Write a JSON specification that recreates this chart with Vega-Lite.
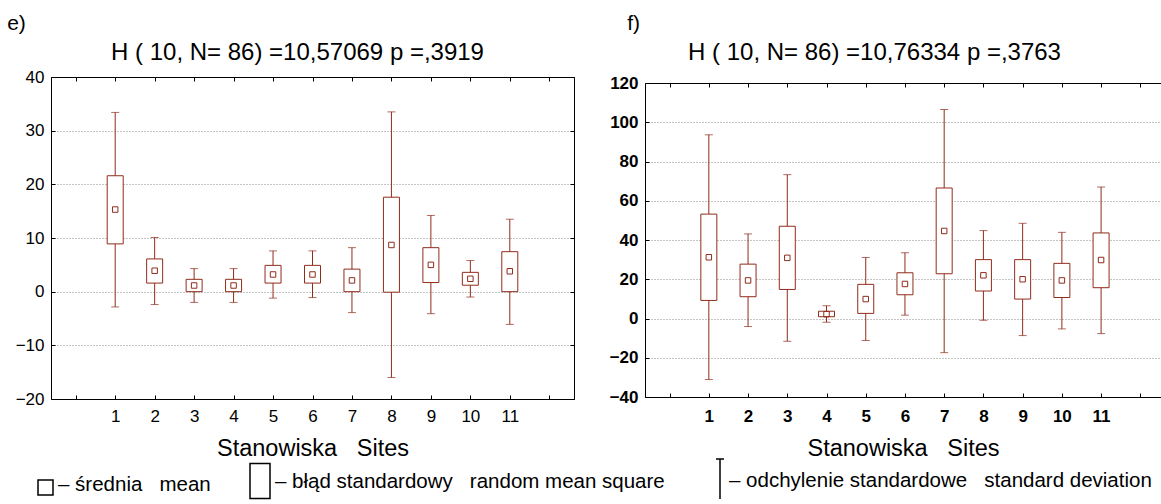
{
  "$schema": "https://vega.github.io/schema/vega-lite/v6.json",
  "padding": {"left": 7, "top": 13, "right": 0, "bottom": 0},
  "background": "white",
  "config": {
    "font": "Liberation Sans",
    "view": {"stroke": null},
    "axis": {"domainColor": "#000", "domainWidth": 1, "tickColor": "#000", "tickWidth": 1, "tickSize": -4, "labelColor": "#000", "labelFont": "Liberation Sans", "titleFont": "Liberation Sans", "titleColor": "#000", "titleFontWeight": "normal", "grid": false, "labelFontSize": 17, "labelFlush": false, "labelOverlap": false},
    "title": {"font": "Liberation Sans", "fontWeight": "normal", "color": "#000"},
    "concat": {"spacing": 34}
  },
  "datasets": {
    "e": [
      {"site": 1, "mean": 15.3, "seLo": 8.9, "seHi": 21.6, "sdLo": -2.85, "sdHi": 33.4},
      {"site": 2, "mean": 3.9, "seLo": 1.6, "seHi": 6.1, "sdLo": -2.4, "sdHi": 10.1},
      {"site": 3, "mean": 1.15, "seLo": 0.0, "seHi": 2.3, "sdLo": -2.0, "sdHi": 4.3},
      {"site": 4, "mean": 1.15, "seLo": 0.0, "seHi": 2.3, "sdLo": -2.0, "sdHi": 4.3},
      {"site": 5, "mean": 3.2, "seLo": 1.6, "seHi": 4.9, "sdLo": -1.2, "sdHi": 7.6},
      {"site": 6, "mean": 3.2, "seLo": 1.6, "seHi": 4.9, "sdLo": -1.1, "sdHi": 7.6},
      {"site": 7, "mean": 2.1, "seLo": 0.0, "seHi": 4.2, "sdLo": -3.9, "sdHi": 8.2},
      {"site": 8, "mean": 8.7, "seLo": -0.1, "seHi": 17.6, "sdLo": -16.0, "sdHi": 33.5},
      {"site": 9, "mean": 5.0, "seLo": 1.7, "seHi": 8.2, "sdLo": -4.1, "sdHi": 14.2},
      {"site": 10, "mean": 2.4, "seLo": 1.2, "seHi": 3.6, "sdLo": -1.0, "sdHi": 5.8},
      {"site": 11, "mean": 3.8, "seLo": 0.0, "seHi": 7.45, "sdLo": -6.1, "sdHi": 13.5}
    ],
    "f": [
      {"site": 1, "mean": 31.2, "seLo": 9.2, "seHi": 53.2, "sdLo": -31.1, "sdHi": 93.6},
      {"site": 2, "mean": 19.4, "seLo": 11.1, "seHi": 27.7, "sdLo": -4.1, "sdHi": 43.1},
      {"site": 3, "mean": 30.9, "seLo": 14.8, "seHi": 47.0, "sdLo": -11.6, "sdHi": 73.3},
      {"site": 4, "mean": 2.2, "seLo": 0.9, "seHi": 3.7, "sdLo": -1.9, "sdHi": 6.5},
      {"site": 5, "mean": 9.9, "seLo": 2.6, "seHi": 17.4, "sdLo": -11.2, "sdHi": 31.1},
      {"site": 6, "mean": 17.6, "seLo": 12.1, "seHi": 23.3, "sdLo": 1.7, "sdHi": 33.5},
      {"site": 7, "mean": 44.6, "seLo": 22.8, "seHi": 66.5, "sdLo": -17.4, "sdHi": 106.5},
      {"site": 8, "mean": 22.0, "seLo": 14.0, "seHi": 30.0, "sdLo": -0.9, "sdHi": 44.8},
      {"site": 9, "mean": 20.0, "seLo": 9.9, "seHi": 30.0, "sdLo": -8.7, "sdHi": 48.5},
      {"site": 10, "mean": 19.4, "seLo": 10.7, "seHi": 28.1, "sdLo": -5.3, "sdHi": 43.9},
      {"site": 11, "mean": 29.8, "seLo": 15.7, "seHi": 43.6, "sdLo": -7.7, "sdHi": 67.0}
    ],
    "legendItems": [
      {"item": "– średnia\u00a0\u00a0\u00a0mean"},
      {"item": "– błąd standardowy\u00a0\u00a0\u00a0random mean square"},
      {"item": "– odchylenie standardowe\u00a0\u00a0\u00a0standard deviation"}
    ]
  },
  "hconcat": [
    {
      "width": 523,
      "height": 322,
      "title": {"text": "e)", "anchor": "start", "frame": "bounds", "fontSize": 21, "dx": -8, "offset": 6},
      "data": {"name": "e"},
      "resolve": {"axis": {"x": "independent", "y": "independent"}},
      "layer": [
        {
          "mark": {"type": "rule", "color": "#902c1c", "strokeWidth": 1},
          "encoding": {
            "x": {"field": "site", "type": "quantitative", "scale": {"domain": [-0.5, 12.5], "nice": false, "zero": false},
              "axis": {"orient": "bottom", "values": [0,1,2,3,4,5,6,7,8,9,10,11,12], "labelExpr": "datum.value >= 1 && datum.value <= 11 ? datum.label : ''", "labelPadding": 13.7, "title": "Stanowiska\u00a0\u00a0\u00a0Sites", "titleFontSize": 23.5, "titleY": 56, "titleBaseline": "alphabetic"}},
            "y": {"field": "sdLo", "type": "quantitative", "scale": {"domain": [-20, 40], "nice": false, "zero": false},
              "axis": {"orient": "left", "values": [-20,-10,0,10,20,30,40], "grid": true, "gridDash": [1,2], "gridColor": "#888", "title": null, "labelPadding": 11}},
            "y2": {"field": "sdHi"}
          }
        },
        {
          "mark": {"type": "point", "opacity": 0},
          "encoding": {
            "x": {"field": "site", "type": "quantitative", "scale": {"domain": [-0.5, 12.5], "nice": false, "zero": false},
              "axis": {"orient": "top", "values": [0,1,2,3,4,5,6,7,8,9,10,11,12], "labels": false, "title": "H ( 10, N= 86) =10,57069 p =,3919", "titleFontSize": 24, "titleX": 246, "titleY": -18, "titleAlign": "center", "titleBaseline": "alphabetic"}},
            "y": {"field": "mean", "type": "quantitative", "scale": {"domain": [-20, 40], "nice": false, "zero": false},
              "axis": {"orient": "right", "values": [-20,-10,0,10,20,30,40], "labels": false, "title": null}}
          }
        },
        {
          "mark": {"type": "tick", "orient": "horizontal", "size": 8, "thickness": 1, "color": "#902c1c"},
          "encoding": {
            "x": {"field": "site", "type": "quantitative", "scale": {"domain": [-0.5, 12.5], "nice": false, "zero": false}, "axis": null},
            "y": {"field": "sdHi", "type": "quantitative", "scale": {"domain": [-20, 40], "nice": false, "zero": false}, "axis": null}
          }
        },
        {
          "mark": {"type": "tick", "orient": "horizontal", "size": 8, "thickness": 1, "color": "#902c1c"},
          "encoding": {
            "x": {"field": "site", "type": "quantitative", "scale": {"domain": [-0.5, 12.5], "nice": false, "zero": false}, "axis": null},
            "y": {"field": "sdLo", "type": "quantitative", "scale": {"domain": [-20, 40], "nice": false, "zero": false}, "axis": null}
          }
        },
        {
          "mark": {"type": "bar", "size": 16, "fill": "white", "stroke": "#902c1c", "strokeWidth": 1},
          "encoding": {
            "x": {"field": "site", "type": "quantitative", "scale": {"domain": [-0.5, 12.5], "nice": false, "zero": false}, "axis": null},
            "y": {"field": "seLo", "type": "quantitative", "scale": {"domain": [-20, 40], "nice": false, "zero": false}, "axis": null},
            "y2": {"field": "seHi"}
          }
        },
        {
          "mark": {"type": "point", "shape": "square", "size": 30, "filled": false, "color": "#902c1c", "strokeWidth": 1, "opacity": 1},
          "encoding": {
            "x": {"field": "site", "type": "quantitative", "scale": {"domain": [-0.5, 12.5], "nice": false, "zero": false}, "axis": null},
            "y": {"field": "mean", "type": "quantitative", "scale": {"domain": [-20, 40], "nice": false, "zero": false}, "axis": null}
          }
        }
      ]
    },
    {
      "width": 516,
      "height": 322,
      "title": {"text": "f)", "anchor": "start", "frame": "bounds", "fontSize": 21, "dx": 18, "offset": 6},
      "data": {"name": "f"},
      "resolve": {"axis": {"x": "independent", "y": "independent"}},
      "layer": [
        {
          "mark": {"type": "rule", "color": "#902c1c", "strokeWidth": 1},
          "encoding": {
            "x": {"field": "site", "type": "quantitative", "scale": {"domain": [-0.5, 12.4], "nice": false, "zero": false},
              "axis": {"orient": "bottom", "offset": -2, "values": [0,1,2,3,4,5,6,7,8,9,10,11,12], "labelExpr": "datum.value >= 1 && datum.value <= 11 ? datum.label : ''", "labelFontWeight": "bold", "labelPadding": 15.7, "title": "Stanowiska\u00a0\u00a0\u00a0Sites", "titleFontSize": 23.5, "titleY": 58, "titleBaseline": "alphabetic"}},
            "y": {"field": "sdLo", "type": "quantitative", "scale": {"domain": [-40, 120], "nice": false, "zero": false, "range": [320, 6]},
              "axis": {"orient": "left", "values": [-40,-20,0,20,40,60,80,100,120], "grid": true, "gridDash": [1,2], "gridColor": "#888", "title": null, "labelFontWeight": "bold", "labelPadding": 11}},
            "y2": {"field": "sdHi"}
          }
        },
        {
          "mark": {"type": "point", "opacity": 0},
          "encoding": {
            "x": {"field": "site", "type": "quantitative", "scale": {"domain": [-0.5, 12.4], "nice": false, "zero": false},
              "axis": {"orient": "top", "offset": -6, "values": [0,1,2,3,4,5,6,7,8,9,10,11,12], "labels": false, "title": "H ( 10, N= 86) =10,76334 p =,3763", "titleFontSize": 24, "titleX": 229, "titleY": -24, "titleAlign": "center", "titleBaseline": "alphabetic"}},
            "y": {"field": "mean", "type": "quantitative", "scale": {"domain": [-40, 120], "nice": false, "zero": false, "range": [320, 6]}, "axis": null}
          }
        },
        {
          "mark": {"type": "tick", "orient": "horizontal", "size": 8, "thickness": 1, "color": "#902c1c"},
          "encoding": {
            "x": {"field": "site", "type": "quantitative", "scale": {"domain": [-0.5, 12.4], "nice": false, "zero": false}, "axis": null},
            "y": {"field": "sdHi", "type": "quantitative", "scale": {"domain": [-40, 120], "nice": false, "zero": false, "range": [320, 6]}, "axis": null}
          }
        },
        {
          "mark": {"type": "tick", "orient": "horizontal", "size": 8, "thickness": 1, "color": "#902c1c"},
          "encoding": {
            "x": {"field": "site", "type": "quantitative", "scale": {"domain": [-0.5, 12.4], "nice": false, "zero": false}, "axis": null},
            "y": {"field": "sdLo", "type": "quantitative", "scale": {"domain": [-40, 120], "nice": false, "zero": false, "range": [320, 6]}, "axis": null}
          }
        },
        {
          "mark": {"type": "bar", "size": 16, "fill": "white", "stroke": "#902c1c", "strokeWidth": 1},
          "encoding": {
            "x": {"field": "site", "type": "quantitative", "scale": {"domain": [-0.5, 12.4], "nice": false, "zero": false}, "axis": null},
            "y": {"field": "seLo", "type": "quantitative", "scale": {"domain": [-40, 120], "nice": false, "zero": false, "range": [320, 6]}, "axis": null},
            "y2": {"field": "seHi"}
          }
        },
        {
          "mark": {"type": "point", "shape": "square", "size": 30, "filled": false, "color": "#902c1c", "strokeWidth": 1, "opacity": 1},
          "encoding": {
            "x": {"field": "site", "type": "quantitative", "scale": {"domain": [-0.5, 12.4], "nice": false, "zero": false}, "axis": null},
            "y": {"field": "mean", "type": "quantitative", "scale": {"domain": [-40, 120], "nice": false, "zero": false, "range": [320, 6]}, "axis": null}
          }
        },
        {
          "data": {"name": "legendItems"},
          "mark": {"type": "point", "opacity": 0, "size": 1600, "filled": false, "color": "black"},
          "encoding": {
            "shape": {"field": "item", "type": "nominal",
              "scale": {"domain": ["– średnia\u00a0\u00a0\u00a0mean", "– błąd standardowy\u00a0\u00a0\u00a0random mean square", "– odchylenie standardowe\u00a0\u00a0\u00a0standard deviation"],
                        "range": ["M0.25,-0.25H1V0.5H0.25Z", "M0,-0.9H1V0.85H0Z", "M0.6,-1.1H1M0.8,-1.1V0.9"]},
              "legend": {"orient": "none", "legendX": -39, "legendY": 383, "direction": "horizontal", "title": null, "symbolSize": 1600, "labelFontSize": 20.5, "labelFont": "Liberation Sans", "labelColor": "black", "labelLimit": 1000, "labelOffset": 4, "columnPadding": 18, "padding": 0,
                "encode": {"symbols": {"update": {"opacity": {"value": 1}, "fill": {"value": "transparent"}, "stroke": {"value": "black"}, "strokeWidth": {"value": 1.5}}}}}
            }
          }
        }
      ]
    }
  ]
}
